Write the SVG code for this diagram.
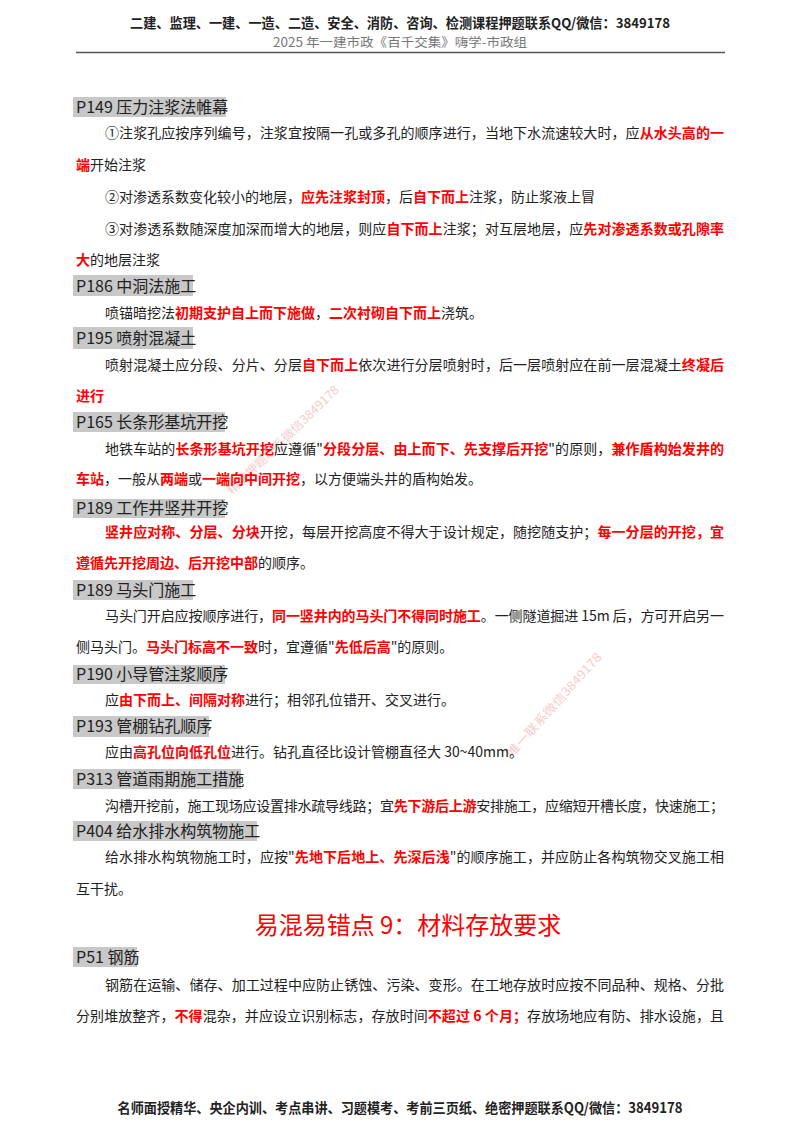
<svg xmlns="http://www.w3.org/2000/svg" width="800" height="1132" viewBox="0 0 800 1132">
<style>
text{font-family:"Noto Sans CJK SC","Liberation Serif",serif;fill:#222}
.b{font-size:14px}
.h{font-size:16px;fill:#111}
.r{fill:#f00;font-weight:bold}
.hb{fill:#c8c8c8}
.wm text{font-size:12px;fill:#f4cccc}
</style>
<rect width="800" height="1132" fill="#fff"/>
<text x="400" y="28" text-anchor="middle" font-size="13.5" font-weight="bold" textLength="540" lengthAdjust="spacingAndGlyphs">二建、监理、一建、一造、二造、安全、消防、咨询、检测课程押题联系QQ/微信：3849178</text>
<text x="400" y="47" text-anchor="middle" font-size="12.5" style="fill:#777" textLength="254" lengthAdjust="spacingAndGlyphs">2025 年一建市政《百千交集》嗨学-市政组</text>
<line x1="76" y1="52.5" x2="725" y2="52.5" stroke="#555" stroke-width="1.5"/>
<g class="wm"><text x="232" y="495" transform="rotate(-44 232 495)" textLength="150" lengthAdjust="spacingAndGlyphs">精准押题联系微信3849178</text>
<text x="512" y="758" transform="rotate(-48 512 758)" textLength="135" lengthAdjust="spacingAndGlyphs">唯一联系微信3849178</text></g>
<g class="hb">
<rect x="73" y="97" width="153" height="20"/><rect x="73" y="275" width="120" height="21"/><rect x="73" y="327" width="120" height="22"/>
<rect x="73" y="412" width="152" height="20"/><rect x="73" y="499" width="152" height="19"/><rect x="73" y="580" width="120" height="20"/>
<rect x="73" y="665" width="152" height="19"/><rect x="73" y="716" width="136" height="21"/><rect x="73" y="769" width="168" height="20"/>
<rect x="73" y="821" width="184" height="20"/><rect x="73" y="947" width="64" height="20"/></g>
<g class="h">
<text x="76" y="113">P149 压力注浆法帷幕</text><text x="76" y="292">P186 中洞法施工</text><text x="76" y="344">P195 喷射混凝土</text>
<text x="76" y="428">P165 长条形基坑开挖</text><text x="76" y="514">P189 工作井竖井开挖</text><text x="76" y="596">P189 马头门施工</text>
<text x="76" y="680">P190 小导管注浆顺序</text><text x="76" y="732">P193 管棚钻孔顺序</text><text x="76" y="785">P313 管道雨期施工措施</text>
<text x="76" y="837">P404 给水排水构筑物施工</text><text x="76" y="963">P51 钢筋</text></g>
<g class="b">
<text x="105" y="138" textLength="619" lengthAdjust="spacing">①注浆孔应按序列编号，注浆宜按隔一孔或多孔的顺序进行，当地下水流速较大时，应<tspan class="r">从水头高的一</tspan></text>
<text x="76" y="170"><tspan class="r">端</tspan>开始注浆</text>
<text x="105" y="202">②对渗透系数变化较小的地层，<tspan class="r">应先注浆封顶</tspan>，后<tspan class="r">自下而上</tspan>注浆，防止浆液上冒</text>
<text x="105" y="234" textLength="619" lengthAdjust="spacing">③对渗透系数随深度加深而增大的地层，则应<tspan class="r">自下而上</tspan>注浆；对互层地层，应<tspan class="r">先对渗透系数或孔隙率</tspan></text>
<text x="76" y="265"><tspan class="r">大</tspan>的地层注浆</text>
<text x="105" y="318">喷锚暗挖法<tspan class="r">初期支护自上而下施做</tspan>，<tspan class="r">二次衬砌自下而上</tspan>浇筑。</text>
<text x="105" y="370" textLength="619" lengthAdjust="spacing">喷射混凝土应分段、分片、分层<tspan class="r">自下而上</tspan>依次进行分层喷射时，后一层喷射应在前一层混凝土<tspan class="r">终凝后</tspan></text>
<text x="76" y="401"><tspan class="r">进行</tspan></text>
<text x="105" y="454" textLength="619" lengthAdjust="spacing">地铁车站的<tspan class="r">长条形基坑开挖</tspan>应遵循"<tspan class="r">分段分层、由上而下、先支撑后开挖</tspan>"的原则，<tspan class="r">兼作盾构始发井的</tspan></text>
<text x="76" y="484"><tspan class="r">车站</tspan>，一般从<tspan class="r">两端</tspan>或<tspan class="r">一端向中间开挖</tspan>，以方便端头井的盾构始发。</text>
<text x="105" y="537" textLength="619" lengthAdjust="spacing"><tspan class="r">竖井应对称、分层、分块</tspan>开挖，每层开挖高度不得大于设计规定，随挖随支护；<tspan class="r">每一分层的开挖，宜</tspan></text>
<text x="76" y="568"><tspan class="r">遵循先开挖周边、后开挖中部</tspan>的顺序。</text>
<text x="105" y="621" textLength="619" lengthAdjust="spacing">马头门开启应按顺序进行，<tspan class="r">同一竖井内的马头门不得同时施工</tspan>。一侧隧道掘进 15m 后，方可开启另一</text>
<text x="76" y="652">侧马头门。<tspan class="r">马头门标高不一致</tspan>时，宜遵循"<tspan class="r">先低后高</tspan>"的原则。</text>
<text x="105" y="705">应<tspan class="r">由下而上、间隔对称</tspan>进行；相邻孔位错开、交叉进行。</text>
<text x="105" y="757">应由<tspan class="r">高孔位向低孔位</tspan>进行。钻孔直径比设计管棚直径大 30~40mm。</text>
<text x="105" y="811" textLength="619" lengthAdjust="spacing">沟槽开挖前，施工现场应设置排水疏导线路；宜<tspan class="r">先下游后上游</tspan>安排施工，应缩短开槽长度，快速施工；</text>
<text x="105" y="862" textLength="619" lengthAdjust="spacing">给水排水构筑物施工时，应按"<tspan class="r">先地下后地上、先深后浅</tspan>"的顺序施工，并应防止各构筑物交叉施工相</text>
<text x="76" y="894">互干扰。</text>
<text x="105" y="990" textLength="619" lengthAdjust="spacing">钢筋在运输、储存、加工过程中应防止锈蚀、污染、变形。在工地存放时应按不同品种、规格、分批</text>
<text x="76" y="1021" textLength="648" lengthAdjust="spacing">分别堆放整齐，<tspan class="r">不得</tspan>混杂，并应设立识别标志，存放时间<tspan class="r">不超过 6 个月；</tspan>存放场地应有防、排水设施，且</text>
</g>
<text x="408" y="934" text-anchor="middle" font-size="24" style="fill:#f00">易混易错点 9：材料存放要求</text>
<text x="400" y="1113" text-anchor="middle" font-size="14" font-weight="bold" textLength="565" lengthAdjust="spacingAndGlyphs">名师面授精华、央企内训、考点串讲、习题模考、考前三页纸、绝密押题联系QQ/微信：3849178</text>
</svg>
